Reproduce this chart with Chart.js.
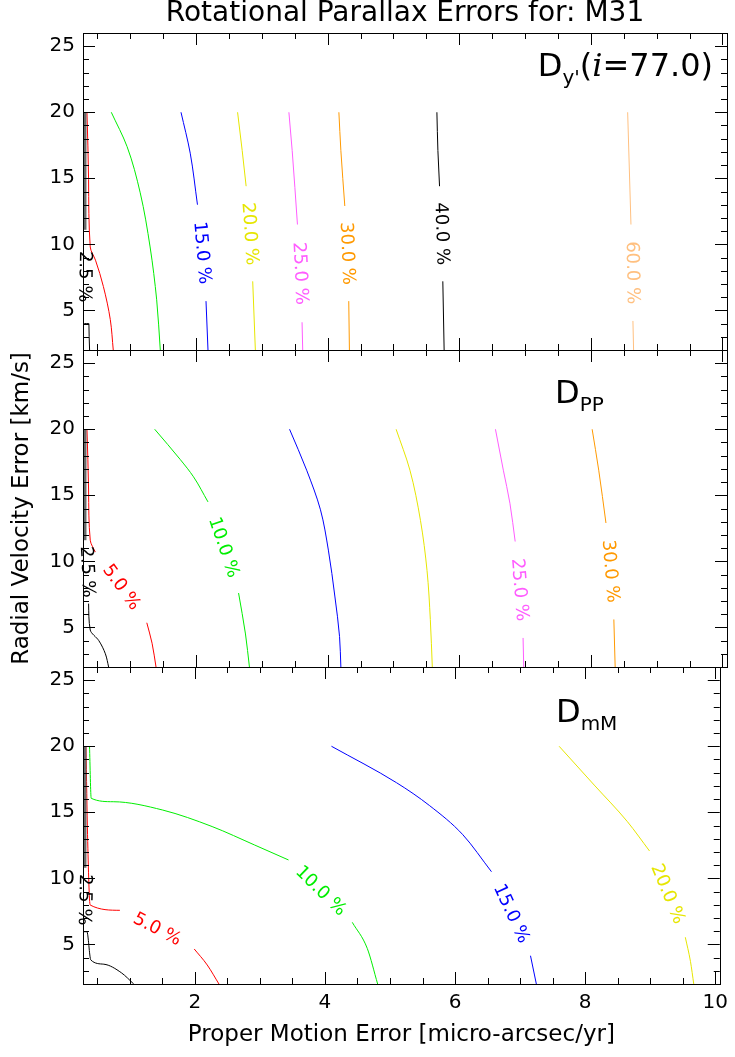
<!DOCTYPE html>
<html>
<head>
<meta charset="utf-8">
<title>Rotational Parallax Errors for: M31</title>
<script src="https://cdn.jsdelivr.net/npm/chart.js@4.4.1/dist/chart.umd.min.js"></script>
<style>
  body { margin: 0; background: #fff; }
  #wrap { position: relative; width: 735px; height: 1057px; }
  #wrap canvas { position: absolute; left: 0; top: 0; }
</style>
</head>
<body>
<div id="wrap">
  <canvas id="dy" width="735" height="1057"></canvas>
  <canvas id="dpp" width="735" height="1057"></canvas>
  <canvas id="dmm" width="735" height="1057"></canvas>
</div>
<script>
// axes
const xRange = [0.28, 10.07];
const yRange = [2, 26];
const xTickValues = [2, 4, 6, 8, 10];
const yTickValues = [5, 10, 15, 20, 25];
const xMinorStep = 0.5;
const yMinorStep = 1;

// contour lines as [x, y] pairs, null marks the gap where the level label goes
// panel 1: D_y'(i=77.0)
const dyLevel2_5 = [[0.31, 20], [0.31, 11.1], null, [0.29, 4.0], [0.37, 4.0], [0.38, 2.0]];
const dyLevel5 = [[0.34, 20], [0.365, 14.9], [0.39, 9.8], [0.47, 8.8], [0.59, 6.8], [0.695, 4.3], [0.74, 2.0]];
const dyLevel10 = [[0.71, 20], [0.95, 17.4], [1.15, 13.9], [1.30, 9.8], [1.40, 5.8], [1.455, 2.0]];
const dyLevel15 = [[1.77, 20], [1.91, 16.9], [2.02, 13.0], null, [2.15, 5.7], [2.18, 2.0]];
const dyLevel20 = [[2.63, 20], [2.70, 17.1], [2.76, 14.4], null, [2.86, 7.2], [2.90, 2.0]];
const dyLevel25 = [[3.41, 20], [3.46, 17.1], [3.54, 11.5], null, [3.61, 4.1], [3.62, 2.0]];
const dyLevel30 = [[4.17, 20], [4.20, 17.1], [4.26, 12.9], null, [4.32, 5.7], [4.33, 2.0]];
const dyLevel40 = [[5.66, 20], [5.675, 17.1], [5.70, 14.4], null, [5.75, 7.2], [5.77, 2.0]];
const dyLevel60 = [[8.56, 20], [8.61, 11.5], null, [8.64, 4.2], [8.65, 2.0]];

// panel 2: D_PP
const ppLevel2_5 = [[0.31, 20], [0.31, 11.6], null, [0.365, 6.8], [0.39, 4.8], [0.52, 4.0], [0.62, 3.0], [0.67, 2.0]];
const ppLevel5 = [[0.34, 20], [0.365, 15.4], [0.39, 11.6], [0.467, 10.7], null, [1.25, 5.35], [1.33, 3.8], [1.39, 2.0]];
const ppLevel10 = [[1.37, 20], [1.76, 17.7], [1.96, 16.4], [2.18, 14.5], null, [2.645, 7.6], [2.75, 4.5], [2.81, 2.0]];
const ppLevel15 = [[3.42, 20], [3.68, 16.9], [3.89, 13.9], [4.01, 10.85], [4.11, 7.3], [4.18, 4.3], [4.20, 2.0]];
const ppLevel20 = [[5.04, 20], [5.25, 16.9], [5.41, 13.1], [5.51, 9.3], [5.56, 5.6], [5.59, 2.0]];
const ppLevel25 = [[6.55, 20], [6.67, 16.9], [6.77, 14.4], [6.85, 11.5], null, [6.97, 4.2], [6.98, 2.0]];
const ppLevel30 = [[8.02, 20], [8.12, 16.9], [8.23, 12.9], null, [8.35, 5.6], [8.37, 2.0]];

// panel 3: D_mM
const mmLevel2_5 = [[0.31, 20], [0.31, 10.8], null, [0.285, 5.96], [0.34, 5.96], [0.40, 3.82], [0.60, 3.5], [0.87, 2.85], [1.06, 2.0]];
const mmLevel5 = [[0.326, 20], [0.35, 13.3], [0.39, 7.98], [0.847, 7.58], null, [1.99, 4.65], [2.19, 3.44], [2.37, 2.0]];
const mmLevel10 = [[0.38, 20], [0.406, 16.06], [0.745, 15.8], [1.505, 15.17], [2.265, 13.92], [2.92, 12.52], [3.44, 11.39], null, [4.42, 6.67], [4.65, 4.7], [4.81, 2.0]];
const mmLevel15 = [[4.10, 20], [5.10, 17.24], [5.61, 15.5], [6.12, 13.3], [6.56, 10.5], null, [7.16, 4.14], [7.25, 2.0]];
const mmLevel20 = [[7.6, 20], [8.14, 17.06], [8.65, 14.29], [8.99, 12.07], null, [9.54, 5.54], [9.62, 3.69], [9.67, 2.0]];

const FONT = '"DejaVu Sans", sans-serif';
Chart.defaults.font.family = FONT;
Chart.defaults.color = '#000';

const levelColors = {
  2.5: '#000000', 5: '#ff0000', 10: '#00ee00', 15: '#0000ff', 20: '#e6e600',
  25: '#ff5cff', 30: '#ff9900', 40: '#000000', 60: '#ffc080'
};

// along: axis the monotone spline follows ('y' for the steep contours)
function contour(level, pts, along) {
  const ds = {
    label: level.toFixed(1) + ' %',
    data: pts.map(p => p ? { x: p[0], y: p[1] } : { x: NaN, y: null }),
    indexAxis: along,
    borderColor: levelColors[level],
    borderWidth: 1,
    pointRadius: 0,
    cubicInterpolationMode: 'monotone',
    spanGaps: false
  };
  if (level === 2.5) {
    // the first run hugs the left axis and looks like a dark grey band
    ds.segment = {
      borderColor: c => c.p0DataIndex === 0 ? '#6a6a6a' : undefined,
      borderWidth: c => c.p0DataIndex === 0 ? 3 : undefined
    };
  }
  return ds;
}

// level label drawn in the gap of a contour, turned along the line
const contourLabels = {
  id: 'contourLabels',
  afterDatasetsDraw(chart) {
    const { ctx } = chart;
    chart.data.datasets.forEach((ds, i) => {
      const gap = ds.data.findIndex(d => d.y === null);
      if (gap < 1) return;
      const meta = chart.getDatasetMeta(i);
      const a = meta.data[gap - 1], b = meta.data[gap + 1];
      const ang = Math.atan2(b.y - a.y, b.x - a.x);
      ctx.save();
      ctx.translate((a.x + b.x) / 2, (a.y + b.y) / 2);
      ctx.rotate(ang);
      ctx.font = '18px ' + FONT;
      ctx.fillStyle = ds.borderColor;
      ctx.textAlign = 'center';
      ctx.textBaseline = 'middle';
      ctx.fillText(ds.label, 0, 0);
      ctx.restore();
    });
  }
};

// box round the panel with inward ticks on all four sides
const frame = {
  id: 'frame',
  afterDraw(chart) {
    const { ctx, chartArea: a, scales: { x, y } } = chart;
    ctx.save();
    ctx.strokeStyle = '#000';
    ctx.lineWidth = 1;
    ctx.beginPath();
    for (let v = xMinorStep; v <= xRange[1]; v += xMinorStep) {
      if (v < xRange[0]) continue;
      const px = Math.round(x.getPixelForValue(v)) + 0.5;
      const len = xTickValues.includes(v) ? 12 : 6;
      ctx.moveTo(px, a.bottom); ctx.lineTo(px, a.bottom - len);
      ctx.moveTo(px, a.top); ctx.lineTo(px, a.top + len);
    }
    for (let v = Math.ceil(yRange[0]); v <= yRange[1]; v += yMinorStep) {
      const py = Math.round(y.getPixelForValue(v)) + 0.5;
      const len = yTickValues.includes(v) ? 12 : 6;
      ctx.moveTo(a.left, py); ctx.lineTo(a.left + len, py);
      ctx.moveTo(a.right, py); ctx.lineTo(a.right - len, py);
    }
    ctx.stroke();
    ctx.strokeRect(Math.round(a.left) + 0.5, Math.round(a.top) + 0.5,
      Math.round(a.right - a.left), Math.round(a.bottom - a.top));
    ctx.restore();
  }
};

// panel name in the upper right corner
const panelName = {
  id: 'panelName',
  afterDraw(chart, args, opts) {
    const { ctx, chartArea: a } = chart;
    let cx = opts.left != null ? a.left + opts.left : 0;
    const base = a.top + opts.baseline;
    const parts = opts.parts;
    ctx.save();
    ctx.fillStyle = '#000';
    ctx.textBaseline = 'alphabetic';
    ctx.textAlign = 'left';
    if (opts.right != null) {
      let w = 0;
      parts.forEach(p => { ctx.font = p.font; w += ctx.measureText(p.text).width; });
      cx = a.right - opts.right - w;
    }
    parts.forEach(p => {
      ctx.font = p.font;
      ctx.fillText(p.text, cx, base + (p.dy || 0));
      cx += ctx.measureText(p.text).width;
    });
    ctx.restore();
  }
};

function panel(id, datasets, cfg) {
  return new Chart(document.getElementById(id), {
    type: 'line',
    data: { datasets },
    plugins: [contourLabels, frame, panelName],
    options: {
      responsive: false,
      animation: false,
      events: [],
      layout: { padding: cfg.padding },
      plugins: {
        legend: { display: false },
        tooltip: { enabled: false },
        title: cfg.title || { display: false },
        panelName: cfg.name
      },
      scales: {
        x: {
          type: 'linear',
          min: xRange[0],
          max: xRange[1],
          display: cfg.showX,
          afterBuildTicks: s => { s.ticks = xTickValues.map(v => ({ value: v })); },
          afterFit: s => { s.height = cfg.showX ? 73 : 0; },
          grid: { display: false, drawTicks: false },
          border: { display: false },
          ticks: { font: { size: 20 }, padding: 7, maxRotation: 0, callback: v => String(v) },
          title: {
            display: true,
            text: 'Proper Motion Error [micro-arcsec/yr]',
            font: { size: 23 },
            padding: { top: 0, bottom: 8 }
          }
        },
        y: {
          type: 'linear',
          min: yRange[0],
          max: yRange[1],
          afterBuildTicks: s => { s.ticks = yTickValues.map(v => ({ value: v })); },
          afterFit: s => { s.width = 83; },
          grid: { display: false, drawTicks: false },
          border: { display: false },
          ticks: { font: { size: 20 }, padding: 8, callback: v => String(v) },
          title: {
            display: !!cfg.yTitle,
            text: 'Radial Velocity Error [km/s]',
            font: { size: 23 },
            padding: { top: 8, bottom: 0 }
          }
        }
      }
    }
  });
}

const big = '32px ' + FONT;
const sub = '20px ' + FONT;

panel('dy', [
  contour(2.5, dyLevel2_5, 'y'), contour(5, dyLevel5, 'y'), contour(10, dyLevel10, 'y'),
  contour(15, dyLevel15, 'y'), contour(20, dyLevel20, 'y'), contour(25, dyLevel25, 'y'),
  contour(30, dyLevel30, 'y'), contour(40, dyLevel40, 'y'), contour(60, dyLevel60, 'y')
], {
  padding: { top: 0, right: 8, bottom: 707, left: 0 },
  showX: false,
  title: {
    display: true,
    fullSize: false,
    text: 'Rotational Parallax Errors for: M31',
    font: { size: 28, weight: 'normal', lineHeight: 1 },
    padding: { top: 0, bottom: 5 }
  },
  name: {
    right: 14, baseline: 43,
    parts: [
      { text: 'D', font: big },
      { text: "y'", font: sub, dy: 8 },
      { text: '(', font: big },
      { text: 'i', font: 'italic 32px "DejaVu Serif", serif' },
      { text: '=77.0)', font: big }
    ]
  }
});

panel('dpp', [
  contour(2.5, ppLevel2_5, 'y'), contour(5, ppLevel5, 'y'), contour(10, ppLevel10, 'y'),
  contour(15, ppLevel15, 'y'), contour(20, ppLevel20, 'y'), contour(25, ppLevel25, 'y'),
  contour(30, ppLevel30, 'y')
], {
  padding: { top: 350, right: 8, bottom: 390, left: 0 },
  showX: false,
  yTitle: true,
  name: {
    left: 472, baseline: 53,
    parts: [{ text: 'D', font: big }, { text: 'PP', font: sub, dy: 8 }]
  }
});

panel('dmm', [
  contour(2.5, mmLevel2_5, 'x'), contour(5, mmLevel5, 'x'), contour(10, mmLevel10, 'x'),
  contour(15, mmLevel15, 'x'), contour(20, mmLevel20, 'x')
], {
  padding: { top: 667, right: 8, bottom: 0, left: 0 },
  showX: true,
  name: {
    left: 473, baseline: 55,
    parts: [{ text: 'D', font: big }, { text: 'mM', font: sub, dy: 8 }]
  }
});
</script>
</body>
</html>
